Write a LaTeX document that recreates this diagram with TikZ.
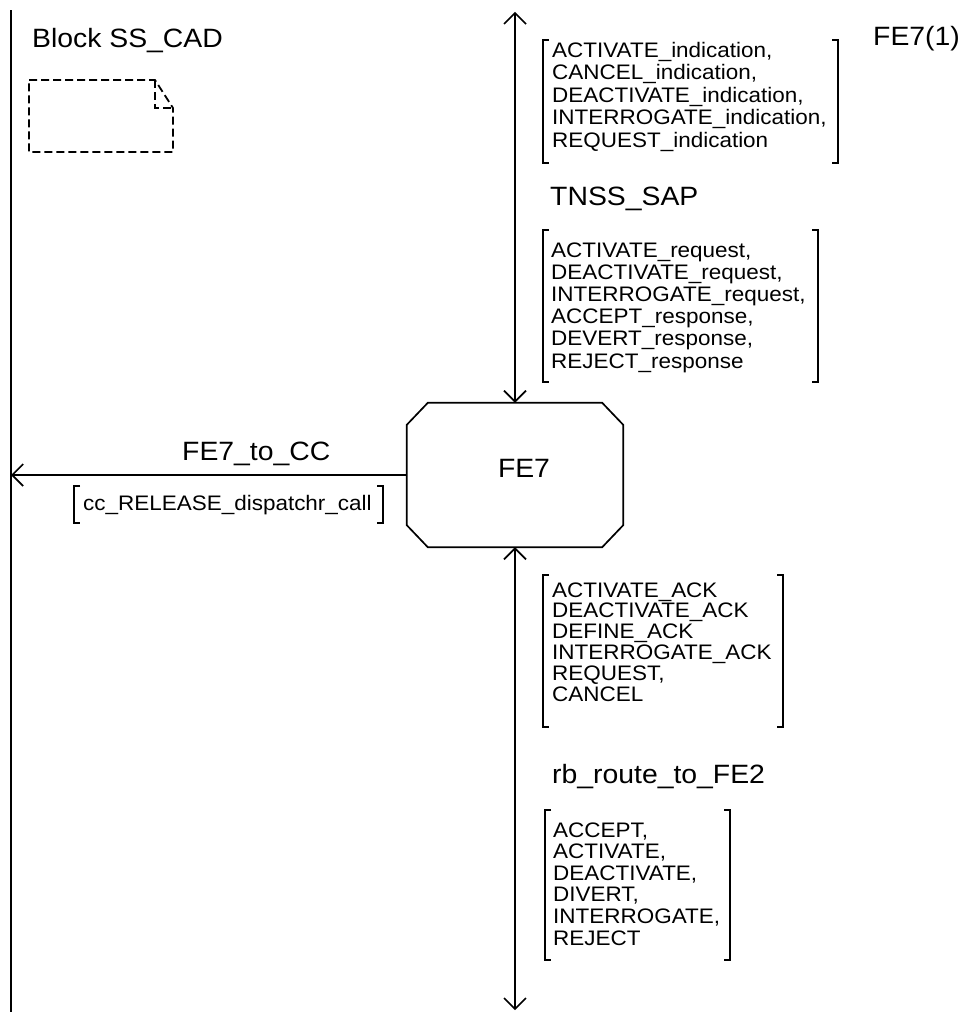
\documentclass[tikz,border=0pt]{standalone}
\usepackage{fontspec}
\setmainfont{Liberation Sans}[FakeStretch=1.07]
\usetikzlibrary{arrows.meta}
\newcommand\siglines[2]{\fontsize{21}{#1}\selectfont\begin{tabular}[t]{@{}l@{}}#2\end{tabular}}
\newcommand\bracketpair[4]{%
  \draw[ln] (#1+6,#2) -- (#1,#2) -- (#1,#4) -- (#1+6,#4);
  \draw[ln] (#3-6,#2) -- (#3,#2) -- (#3,#4) -- (#3-6,#4);}
\begin{document}
\begin{tikzpicture}[x=1pt,y=-1pt,
  ln/.style={line width=1.7pt},
  big/.style={font=\fontsize{26.5}{30}\selectfont, inner sep=0pt, anchor=base west},
  sig/.style={inner sep=0pt, anchor=base west},
  note/.style={line width=1.8pt, dash pattern=on 8pt off 4pt},
  >={Straight Barb[length=11pt,width=22pt]}]
\useasboundingbox (0,0) rectangle (973,1012);

% left frame line
\coordinate (lt) at (11,10);
\coordinate (lb) at (11,1012);
\draw[ln] (lt) -- (lb);

% titles
\node[big] (title) at (32,47) {Block SS\_CAD};
\node[big] (inst) at (873,45) {FE7(1)};

% dashed comment/note symbol
\draw[note] (29,80) -- (155,80) -- (173,108) -- (173,152) -- (29,152) -- cycle;
\draw[note] (155,80) -- (155,108) -- (173,108);

% FE7 process (octagon)
\node[minimum width=216pt, minimum height=144pt, inner sep=0pt,
      font=\fontsize{26.5}{30}\selectfont, text depth=13pt] (fe7) at (515,475) {\hspace*{18pt}FE7};
\draw[ln] ([xshift=-21pt]fe7.north east) -- ([yshift=-22pt]fe7.north east)
  -- ([yshift=22pt]fe7.south east) -- ([xshift=-21pt]fe7.south east)
  -- ([xshift=21pt]fe7.south west) -- ([yshift=22pt]fe7.south west)
  -- ([yshift=-22pt]fe7.north west) -- ([xshift=21pt]fe7.north west) -- cycle;

% channels
\coordinate (ttop) at ([yshift=391pt]fe7.north);
\coordinate (tbot) at ([yshift=-463pt]fe7.south);
\draw[ln,<->] (ttop) -- (fe7.north);
\draw[ln,<->] (fe7.south) -- (tbot);
\draw[ln,->] (fe7.west) -- (fe7.west -| lt);

% channel names
\node[big] (tnss) at (550,205) {TNSS\_SAP};
\node[big] (tocc) at (182,460) {FE7\_to\_CC};
\node[big] (rb) at (552,783) {rb\_route\_to\_FE2};

% signal lists
\node[sig] (s1) at (552,57) {\siglines{22.5}{ACTIVATE\_indication,\\CANCEL\_indication,\\DEACTIVATE\_indication,\\INTERROGATE\_indication,\\REQUEST\_indication}};
\bracketpair{543}{40}{838}{163}

\node[sig] (s2) at (551,257) {\siglines{22.2}{ACTIVATE\_request,\\DEACTIVATE\_request,\\INTERROGATE\_request,\\ACCEPT\_response,\\DEVERT\_response,\\REJECT\_response}};
\bracketpair{543}{230}{818}{382}

\node[sig] (s3) at (552,597) {\siglines{20.6}{ACTIVATE\_ACK\\DEACTIVATE\_ACK\\DEFINE\_ACK\\INTERROGATE\_ACK\\REQUEST,\\CANCEL}};
\bracketpair{543}{575}{783}{727}

\node[sig] (s4) at (553,837) {\siglines{21.6}{ACCEPT,\\ACTIVATE,\\DEACTIVATE,\\DIVERT,\\INTERROGATE,\\REJECT}};
\bracketpair{545}{810}{730}{960}

\node[sig] (s5) at (83,510) {\siglines{21.5}{cc\_RELEASE\_dispatchr\_call}};
\bracketpair{74}{486}{383}{523}
\end{tikzpicture}
\end{document}
